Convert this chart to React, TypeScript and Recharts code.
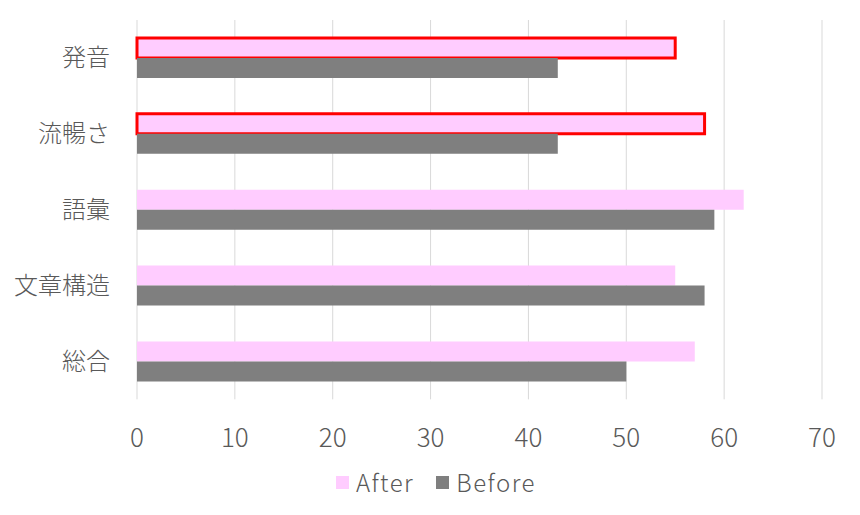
import { BarChart, Bar, XAxis, YAxis, CartesianGrid, Legend, Cell } from 'recharts';

const categories = ['発音', '流暢さ', '語彙', '文章構造', '総合'];
const afterValues = [55, 58, 62, 55, 57];
const beforeValues = [43, 43, 59, 58, 50];
const highlighted = [true, true, false, false, false];
const xTicks = [0, 10, 20, 30, 40, 50, 60, 70];

const data = categories.map((name, i) => ({
  name,
  after: afterValues[i],
  before: beforeValues[i],
  highlight: highlighted[i],
}));

const FONT = '"Noto Sans CJK JP", "Noto Sans", sans-serif';
const TEXT = '#595959';

export default function App() {
  return (
    <div style={{ position: 'absolute', left: 0, top: 0, background: '#fff' }}>
      <BarChart
        width={860}
        height={515}
        data={data}
        layout="vertical"
        margin={{ top: 20, right: 38, left: 0, bottom: 18 }}
        barGap={0}
        style={{ fontFamily: FONT }}
      >
        <CartesianGrid horizontal={false} stroke="#d9d9d9" />
        <XAxis
          type="number"
          domain={[0, 70]}
          ticks={xTicks}
          axisLine={false}
          tickLine={false}
          tickMargin={23}
          height={65}
          tick={{ fontSize: 26, fill: TEXT, fontFamily: FONT, fontWeight: 300 }}
        />
        <YAxis
          type="category"
          dataKey="name"
          width={137}
          axisLine={false}
          tickLine={false}
          tickMargin={21}
          tick={{ fontSize: 24, fill: TEXT, fontFamily: FONT, fontWeight: 300 }}
        />
        <Legend
          verticalAlign="bottom"
          iconType="square"
          iconSize={13}
          wrapperStyle={{ lineHeight: '30px', left: 36 }}
          formatter={(value) => (
            <span
              style={{
                color: TEXT,
                fontSize: 24,
                fontFamily: FONT,
                fontWeight: 300,
                letterSpacing: 1.5,
                paddingLeft: 3,
                paddingRight: 12,
                verticalAlign: 'middle',
              }}
            >
              {value}
            </span>
          )}
        />
        <Bar dataKey="after" name="After" fill="#ffccff" barSize={20} isAnimationActive={false}>
          {data.map((d, i) => (
            <Cell
              key={`after-${i}`}
              fill="#ffccff"
              stroke={d.highlight ? '#ff0000' : 'none'}
              strokeWidth={d.highlight ? 3 : 0}
            />
          ))}
        </Bar>
        <Bar dataKey="before" name="Before" fill="#7f7f7f" barSize={20} isAnimationActive={false} />
      </BarChart>
    </div>
  );
}
